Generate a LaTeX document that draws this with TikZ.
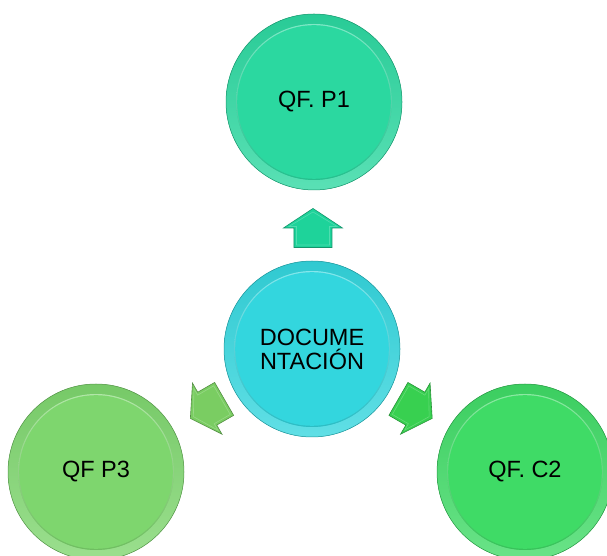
\documentclass[tikz,border=0pt]{standalone}
\usepackage{fontspec}
\newfontfamily\labelfont{Liberation Sans}
\usetikzlibrary{calc}

\definecolor{topc}{HTML}{2BD8A0}
\definecolor{docc}{HTML}{33D6DE}
\definecolor{leftc}{HTML}{7ED66E}
\definecolor{rightc}{HTML}{3FDB66}
\definecolor{uparr}{HTML}{1ED39A}
\definecolor{leftarr}{HTML}{7ACD62}
\definecolor{rightarr}{HTML}{38D050}

\tikzset{
  % bevelled round button with a raised rim and a recessed face
  disc/.style={
    circle, minimum size=176pt, inner sep=0pt, fill=#1,
    draw=#1!70!black, line width=0.5pt, text=black, align=center,
    font=\labelfont\fontsize{23.5}{24}\selectfont,
    path picture={
      \coordinate (c) at (path picture bounding box.center);
      \shade[even odd rule, shading angle=45,
             top color=#1!94!black, bottom color=#1!78!white]
        (c) circle (88pt) (c) circle (78pt);
      \shade[shading angle=45, top color=#1!60!white, bottom color=#1!88!black]
        (c) circle (78pt);
      \fill[#1] (c) circle (76.8pt);
    }},
  blockarrow/.style={fill=#1, draw=#1!70!black, line width=0.6pt, line join=miter},
  arrowbevel/.style={draw=#1!55!white, line width=0.6pt, opacity=0.5}
}

\begin{document}
\begin{tikzpicture}[x=1pt, y=1pt]
  \useasboundingbox (0,0) rectangle (607,556);

  \node[disc=docc]   (doc) at (312,207) {DOCUME\\NTACIÓN};
  \node[disc=topc]   (p1)  at (314,454) {QF. P1};
  \node[disc=leftc]  (p3)  at (96,84)   {QF P3};
  \node[disc=rightc] (c2)  at (525,84)  {QF. C2};

  \coordinate (a1) at ($(doc)!0.49!(p1)$);
  \coordinate (a2) at ($(doc)!0.485!(p3)$);
  \coordinate (a3) at ($(doc)!0.485!(c2)$);

  % block arrows pointing from the centre to each outer circle
  \foreach \pos/\ang/\col in {a1/0/uparr, a2/120/leftarr, a3/-120/rightarr}{
    \draw[blockarrow=\col, shift={(\pos)}, rotate=\ang]
      (0,19.5) -- (29.5,0) -- (19,0) -- (19,-19.5) -- (-19,-19.5)
      -- (-19,0) -- (-29.5,0) -- cycle;
    \draw[arrowbevel=\col, shift={(\pos)}, rotate=\ang]
      (0,16) -- (24,1.5) -- (16.5,1.5) -- (16.5,-17) -- (-16.5,-17)
      -- (-16.5,1.5) -- (-24,1.5) -- cycle;
  }
\end{tikzpicture}
\end{document}
